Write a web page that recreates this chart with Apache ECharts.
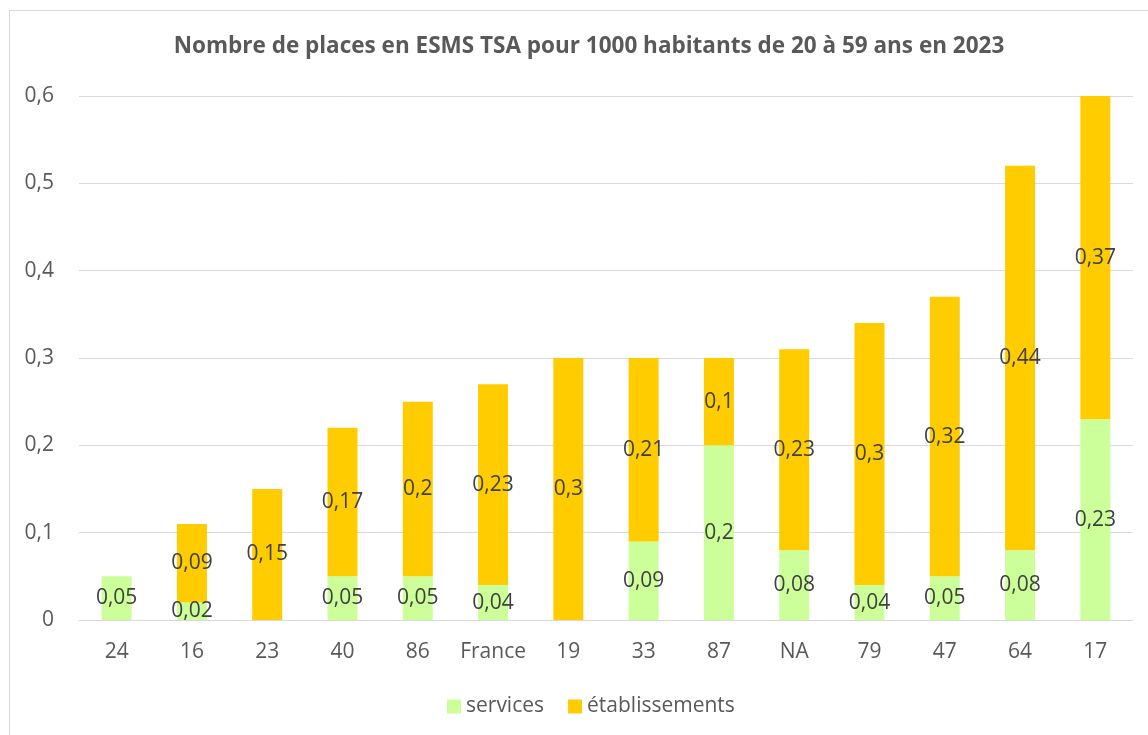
<!DOCTYPE html>
<html>
<head>
<meta charset="utf-8">
<script src="https://cdn.jsdelivr.net/npm/echarts@6/dist/echarts.min.js"></script>
<style>
html,body{margin:0;padding:0;background:#fff;}
#frame{position:absolute;left:9px;top:10px;width:1160px;height:760px;border:1px solid #D9D9D9;box-sizing:border-box;}
#chart{position:absolute;left:0;top:0;width:1148px;height:735px;}
</style>
</head>
<body>
<div id="frame"></div>
<div id="chart"></div>
<script>
const categories = ['24','16','23','40','86','France','19','33','87','NA','79','47','64','17'];
const services = [0.05,0.02,0,0.05,0.05,0.04,0,0.09,0.2,0.08,0.04,0.05,0.08,0.23];
const etablissements = [0,0.09,0.15,0.17,0.2,0.23,0.3,0.21,0.1,0.23,0.3,0.32,0.44,0.37];
const yTicks = [0,0.1,0.2,0.3,0.4,0.5,0.6];

const fmt = v => String(v).replace('.', ',');
const FONT = '"Open Sans", "Liberation Sans", sans-serif';
const labelOpt = {
  show: true,
  position: 'inside',
  color: '#404040',
  fontSize: 21,
  fontFamily: FONT,
  formatter: p => (p.value ? fmt(p.value) : '')
};

const chart = echarts.init(document.getElementById('chart'));
chart.setOption({
  animation: false,
  title: {
    text: 'Nombre de places en ESMS TSA pour 1000 habitants de 20 à 59 ans en 2023',
    left: 584, top: 30, textAlign: 'center',
    textStyle: {color: '#595959', fontSize: 22.5, fontWeight: 'bold', fontFamily: FONT}
  },
  legend: {
    bottom: 13, left: 442,
    itemWidth: 14, itemHeight: 14, itemGap: 24,
    icon: 'rect',
    textStyle: {color: '#595959', fontSize: 21, fontFamily: FONT},
    data: ['services', 'établissements']
  },
  grid: {left: 79, right: 15, top: 96, bottom: 115, containLabel: false},
  xAxis: {
    type: 'category',
    data: categories,
    axisLine: {lineStyle: {color: '#D9D9D9', width: 1}},
    axisTick: {show: false},
    axisLabel: {color: '#595959', fontSize: 21, fontFamily: FONT, margin: 22, interval: 0}
  },
  yAxis: {
    type: 'value',
    min: yTicks[0], max: yTicks[yTicks.length - 1], interval: 0.1,
    axisLine: {show: false},
    axisTick: {show: false},
    splitLine: {lineStyle: {color: '#D9D9D9', width: 1}},
    axisLabel: {color: '#595959', fontSize: 21, fontFamily: FONT, margin: 25,
      formatter: v => fmt(Math.round(v * 10) / 10)}
  },
  series: [
    {name: 'services', type: 'bar', stack: 'total', data: services, barWidth: 30,
      itemStyle: {color: '#CCFF99'}, label: labelOpt},
    {name: 'établissements', type: 'bar', stack: 'total', data: etablissements, barWidth: 30,
      itemStyle: {color: '#FFCC00'}, label: labelOpt}
  ]
});
</script>
</body>
</html>
